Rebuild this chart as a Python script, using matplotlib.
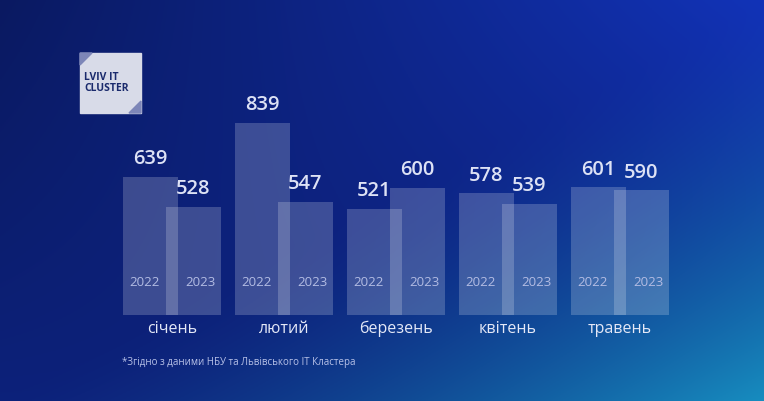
import numpy as np
import matplotlib.pyplot as plt
from matplotlib.patches import Rectangle, Polygon

months = ['січень', 'лютий', 'березень', 'квітень', 'травень']
v2022 = [639, 839, 521, 578, 601]
v2023 = [528, 547, 600, 539, 590]
years = ['2022', '2023']
note = '*Згідно з даними НБУ та Львівського ІТ Кластера'

plt.rcParams['font.family'] = ['Open Sans', 'DejaVu Sans']
W, H = 764, 401
fig = plt.figure(figsize=(W / 100, H / 100), dpi=100)

# фон з градієнтом
bg = fig.add_axes([0, 0, 1, 1])
yy, xx = np.mgrid[0:1:200j, 0:1:380j]
c_tl = np.array([0.04, 0.10, 0.38])
c_tr = np.array([0.07, 0.20, 0.72])
c_br = np.array([0.09, 0.55, 0.75])
c_bl = np.array([0.05, 0.13, 0.48])
img = ((1 - xx)[..., None] * (1 - yy)[..., None] * c_tl + xx[..., None] * (1 - yy)[..., None] * c_tr
       + xx[..., None] * yy[..., None] * c_bl + (1 - xx)[..., None] * yy[..., None] * c_bl)
t = np.clip((xx + yy - 1.0) / 1.0, 0, 1)[..., None] ** 1.5
img = img * (1 - t) + c_br * t
bg.imshow(img, aspect='auto', extent=[0, W, H, 0])
bg.set_xlim(0, W)
bg.set_ylim(H, 0)
bg.axis('off')

# логотип
bg.add_patch(Rectangle((80, 53), 61, 60, color='#d8dbe8', zorder=2))
bg.add_patch(Polygon([(80, 53), (92, 53), (80, 65)], color='#7d86b8', zorder=3))
bg.add_patch(Polygon([(141, 113), (129, 113), (141, 101)], color='#7d86b8', zorder=3))
bg.text(84, 83, 'LVIV IT\nCLUSTER', color='#1a2a6c', fontsize=7.5, fontweight='bold',
        va='center', ha='left', linespacing=1.1, zorder=4)
bg.text(122, 363, note, color='#b8c2e8', fontsize=7, va='center', ha='left')

# стовпці
ax = fig.add_axes([0, 1 - 315 / H, 1, (315 - 79.5) / H])
ax.set_xlim(-172 / 112, 592 / 112)
ax.set_ylim(128, 1000)
ax.axis('off')
x = np.arange(len(months))
off = 21.5 / 112
w = 55 / 112
ax.bar(x - off, v2022, width=w, color='white', alpha=0.2)
ax.bar(x + off, v2023, width=w, color='white', alpha=0.2)
for i in range(len(months)):
    ax.text(x[i] - off, v2022[i] + 28, str(v2022[i]), color='#dde2f5', fontsize=14.5,
            fontweight='semibold', ha='center', va='bottom')
    ax.text(x[i] + off, v2023[i] + 28, str(v2023[i]), color='#dde2f5', fontsize=14.5,
            fontweight='semibold', ha='center', va='bottom')
    ax.text(x[i] - off - 0.05, 250, years[0], color='#b3bce3', fontsize=9.5, ha='center', va='center')
    ax.text(x[i] + off + 0.06, 250, years[1], color='#b3bce3', fontsize=9.5, ha='center', va='center')
    ax.text(x[i], -0.06, months[i], color='#e4e8f7', fontsize=11.5, ha='center', va='center',
            transform=ax.get_xaxis_transform())

fig.savefig('out.png', dpi=100)
